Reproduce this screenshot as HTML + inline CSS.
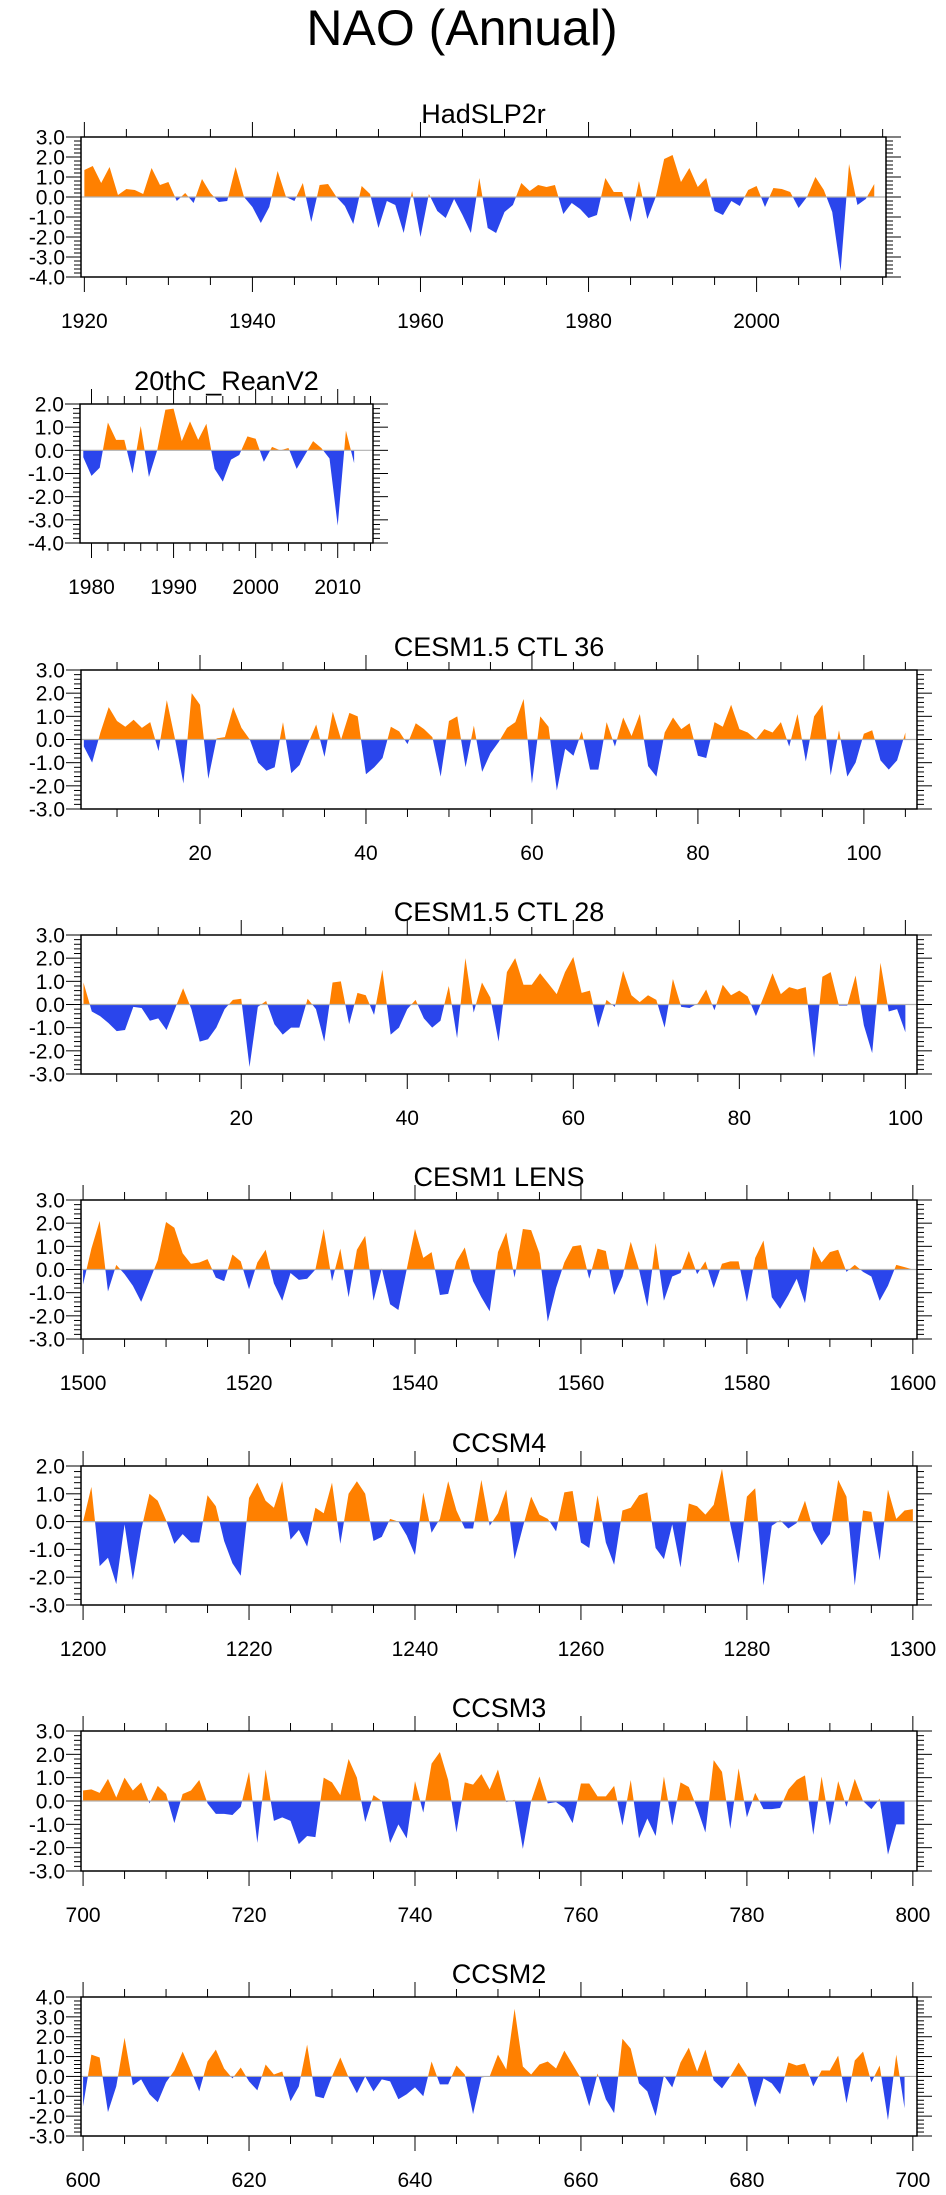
<!DOCTYPE html>
<html><head><meta charset="utf-8"><style>
html,body{margin:0;padding:0;background:#fff;}
svg{display:block;font-family:"Liberation Sans",Arial,sans-serif;}
</style></head><body>
<svg id="chart" width="946" height="2195" viewBox="0 0 946 2195" xmlns="http://www.w3.org/2000/svg">
<text x="462" y="45" font-size="50" text-anchor="middle">NAO (Annual)</text>
</svg>
<script>
// ---- data ----
const hadYears0 = 1920;
const hadValues = [1.35,1.55,0.7,1.5,0.1,0.4,0.35,0.15,1.45,0.6,0.75,-0.2,0.2,-0.3,0.9,0.2,-0.25,-0.2,1.5,0.0,
-0.5,-1.3,-0.5,1.3,0.0,-0.2,0.7,-1.25,0.6,0.65,0.0,-0.45,-1.35,0.55,0.15,-1.55,-0.2,-0.4,-1.8,0.3,
-2.0,0.15,-0.7,-1.05,-0.1,-0.9,-1.8,0.95,-1.55,-1.8,-0.75,-0.4,0.7,0.3,0.6,0.5,0.6,-0.85,-0.3,-0.6,
-1.05,-0.9,0.95,0.25,0.25,-1.25,0.8,-1.1,0.0,1.9,2.1,0.75,1.45,0.5,0.95,-0.7,-0.9,-0.2,-0.45,0.35,
0.55,-0.5,0.45,0.4,0.25,-0.55,0.0,1.0,0.35,-0.75,-3.7,1.65,-0.4,-0.1,0.65];
const reanYears0 = 1979;
const reanValues = [-0.3,-1.1,-0.75,1.2,0.45,0.45,-1.0,1.05,-1.15,0.0,1.75,1.8,0.4,1.25,0.45,1.15,-0.8,-1.35,-0.4,-0.2,
0.6,0.5,-0.5,0.15,0.0,0.1,-0.8,-0.2,0.4,0.1,-0.35,-3.25,0.85,-0.55];
const ctl36Years0 = 6;
const ctl36Values = [-0.3,-1.0,0.3,1.4,0.8,0.55,0.85,0.5,0.75,-0.5,1.7,0.0,-1.9,2.0,1.5,-1.7,0.05,0.1,1.4,0.5,
0.0,-1.0,-1.35,-1.2,0.75,-1.45,-1.1,-0.2,0.65,-0.75,1.2,0.0,1.15,1.0,-1.5,-1.2,-0.8,0.55,0.35,-0.2,
0.7,0.45,0.1,-1.6,0.8,1.0,-1.2,0.6,-1.4,-0.6,-0.1,0.5,0.75,1.75,-1.9,1.0,0.55,-2.2,-0.4,-0.7,
0.35,-1.3,-1.3,0.75,-0.3,0.95,0.15,1.1,-1.15,-1.6,0.3,0.95,0.45,0.7,-0.7,-0.8,0.75,0.55,1.5,0.45,
0.3,0.0,0.45,0.3,0.75,-0.3,1.1,-0.95,1.0,1.5,-1.55,0.4,-1.6,-1.0,0.25,0.4,-0.9,-1.3,-0.9,0.3];
const ctl28Years0 = 1;
const ctl28Values = [0.95,-0.3,-0.5,-0.8,-1.15,-1.1,-0.1,-0.15,-0.7,-0.6,-1.1,-0.2,0.7,-0.2,-1.6,-1.5,-1.0,-0.2,0.2,0.25,
-2.7,-0.1,0.15,-0.85,-1.3,-1.0,-1.0,0.25,-0.2,-1.6,0.95,1.0,-0.85,0.5,0.4,-0.45,1.5,-1.3,-1.0,-0.2,
0.2,-0.6,-1.0,-0.7,0.8,-1.45,2.0,-0.35,0.95,0.3,-1.6,1.4,2.0,0.85,0.85,1.35,0.9,0.45,1.4,2.05,
0.5,0.6,-1.0,0.2,-0.1,1.45,0.4,0.1,0.4,0.2,-1.0,1.1,-0.1,-0.15,0.05,0.65,-0.25,0.85,0.4,0.6,
0.35,-0.5,0.4,1.35,0.45,0.75,0.65,0.75,-2.3,1.2,1.4,-0.05,-0.05,1.25,-0.9,-2.1,1.8,-0.3,-0.2,-1.2];
const lensYears0 = 1500;
const lensValues = [-0.65,0.9,2.1,-0.95,0.2,-0.2,-0.7,-1.4,-0.5,0.4,2.05,1.8,0.7,0.25,0.3,0.45,-0.35,-0.5,0.65,0.35,
-0.85,0.3,0.85,-0.6,-1.35,-0.15,-0.45,-0.4,0.0,1.75,-0.5,0.9,-1.2,0.85,1.45,-1.35,0.05,-1.5,-1.75,0.0,
1.75,0.5,0.75,-1.1,-1.05,0.35,0.95,-0.5,-1.2,-1.8,0.75,1.6,-0.35,1.75,1.7,0.7,-2.25,-0.8,0.3,1.0,
1.05,-0.4,0.9,0.8,-1.1,-0.3,1.2,0.0,-1.6,1.15,-1.35,-0.3,-0.15,0.8,-0.2,0.35,-0.8,0.25,0.35,0.35,
-1.4,0.5,1.25,-1.2,-1.7,-1.1,-0.4,-1.45,1.0,0.3,0.75,0.85,-0.1,0.2,-0.1,-0.3,-1.35,-0.7,0.2,0.1,0.0];
const ccsm4Years0 = 1200;
const ccsm4Values = [0.0,1.25,-1.6,-1.3,-2.25,-0.1,-2.1,-0.3,1.0,0.75,0.05,-0.8,-0.45,-0.75,-0.75,0.95,0.55,-0.7,-1.5,-1.95,
0.85,1.4,0.75,0.5,1.45,-0.65,-0.3,-0.9,0.5,0.3,1.4,-0.8,1.0,1.45,1.0,-0.7,-0.55,0.1,0.0,-0.5,
-1.2,1.05,-0.4,0.1,1.45,0.4,-0.25,-0.25,1.5,-0.15,0.3,1.15,-1.35,-0.2,0.9,0.25,0.1,-0.35,1.05,1.1,
-0.75,-0.95,0.95,-0.75,-1.55,0.4,0.5,0.95,1.05,-0.95,-1.35,-0.1,-1.65,0.65,0.55,0.25,0.6,1.9,-0.1,-1.5,
0.9,1.2,-2.3,-0.15,0.05,-0.25,-0.05,0.75,-0.3,-0.85,-0.45,1.5,0.9,-2.3,0.4,0.35,-1.4,1.15,0.1,0.4,0.45];
const ccsm3Years0 = 700;
const ccsm3Values = [0.45,0.5,0.35,0.95,0.15,1.0,0.45,0.8,-0.1,0.65,0.3,-0.95,0.3,0.45,0.9,-0.1,-0.55,-0.55,-0.6,-0.25,
1.25,-1.8,1.35,-0.85,-0.7,-0.85,-1.85,-1.5,-1.55,1.0,0.8,0.25,1.8,1.0,-0.9,0.25,0.0,-1.8,-1.0,-1.6,
0.85,-0.5,1.6,2.1,0.9,-1.35,0.8,0.7,1.15,0.5,1.35,-0.05,0.05,-2.05,0.0,1.05,-0.1,-0.05,-0.3,-0.95,
0.75,0.75,0.2,0.2,0.65,-1.05,0.9,-1.6,-0.75,-1.5,1.05,-1.05,0.8,0.6,-0.3,-1.35,1.75,1.25,-1.2,1.4,
-0.7,0.35,-0.35,-0.35,-0.3,0.5,0.9,1.1,-1.45,1.05,-1.05,0.85,-0.25,0.95,0.0,-0.35,0.1,-2.3,-1.0,-1.0];
const ccsm2Years0 = 600;
const ccsm2Values = [-1.5,1.1,0.95,-1.8,-0.5,1.95,-0.45,-0.15,-0.9,-1.3,-0.3,0.3,1.25,0.3,-0.75,0.75,1.35,0.4,-0.1,0.45,
-0.25,-0.7,0.6,0.1,0.25,-1.25,-0.5,1.6,-1.0,-1.1,0.0,0.95,-0.05,-0.85,0.0,-0.75,-0.15,-0.25,-1.15,-0.9,
-0.55,-1.0,0.75,-0.4,-0.4,0.55,0.1,-1.9,-0.05,0.0,1.1,0.35,3.4,0.5,0.1,0.6,0.75,0.4,1.3,0.6,
-0.1,-1.5,0.15,-1.15,-1.85,1.9,1.4,-0.35,-0.75,-2.0,0.05,-0.55,0.7,1.45,0.25,1.35,-0.2,-0.6,0.0,0.7,
0.05,-1.55,-0.1,-0.35,-0.9,0.7,0.55,0.65,-0.5,0.3,0.3,1.05,-1.35,0.8,1.25,-0.3,0.55,-2.2,1.1,-1.6];
const hadXTicks = [1920,1940,1960,1980,2000];
const reanXTicks = [1980,1990,2000,2010];
const ctlXTicks = [20,40,60,80,100];
const lensXTicks = [1500,1520,1540,1560,1580,1600];
const ccsm4XTicks = [1200,1220,1240,1260,1280,1300];
const ccsm3XTicks = [700,720,740,760,780,800];
const ccsm2XTicks = [600,620,640,660,680,700];

// ---- layout ----
const NS='http://www.w3.org/2000/svg';
const svg=document.getElementById('chart');
function mk(tag,attrs,parent){const e=document.createElementNS(NS,tag);for(const k in attrs)e.setAttribute(k,attrs[k]);(parent||svg).appendChild(e);return e;}

const panels=[
 {name:'hadslp2r',title:'HadSLP2r',x0:hadYears0,vals:hadValues,xt:hadXTicks,minorStep:5,L:81,R:886,T:137,B:277,xmin:1919.6,xmax:2015.4,ymin:-4,ymax:3},
 {name:'20thc-reanv2',title:'20thC_ReanV2',x0:reanYears0,vals:reanValues,xt:reanXTicks,minorStep:2,L:80,R:373,T:404,B:543,xmin:1978.6,xmax:2014.3,ymin:-4,ymax:2},
 {name:'cesm15-ctl36',title:'CESM1.5 CTL 36',x0:ctl36Years0,vals:ctl36Values,xt:ctlXTicks,minorStep:5,L:81,R:917,T:670,B:809,xmin:5.66,xmax:106.4,ymin:-3,ymax:3},
 {name:'cesm15-ctl28',title:'CESM1.5 CTL 28',x0:ctl28Years0,vals:ctl28Values,xt:ctlXTicks,minorStep:5,L:81,R:917,T:935,B:1074,xmin:0.7,xmax:101.4,ymin:-3,ymax:3},
 {name:'cesm1-lens',title:'CESM1 LENS',x0:lensYears0,vals:lensValues,xt:lensXTicks,minorStep:5,L:81,R:917,T:1200,B:1339,xmin:1499.75,xmax:1600.5,ymin:-3,ymax:3},
 {name:'ccsm4',title:'CCSM4',x0:ccsm4Years0,vals:ccsm4Values,xt:ccsm4XTicks,minorStep:5,L:81,R:917,T:1466,B:1605,xmin:1199.75,xmax:1300.5,ymin:-3,ymax:2},
 {name:'ccsm3',title:'CCSM3',x0:ccsm3Years0,vals:ccsm3Values,xt:ccsm3XTicks,minorStep:5,L:81,R:917,T:1731,B:1871,xmin:699.75,xmax:800.5,ymin:-3,ymax:3},
 {name:'ccsm2',title:'CCSM2',x0:ccsm2Years0,vals:ccsm2Values,xt:ccsm2XTicks,minorStep:5,L:81,R:917,T:1997,B:2136,xmin:599.75,xmax:700.5,ymin:-3,ymax:4}
];

panels.forEach((p,pi)=>{
 const g=mk('g',{});
 
 
 const sx=v=>p.L+(v-p.xmin)/(p.xmax-p.xmin)*(p.R-p.L);
 const sy=v=>p.B-(v-p.ymin)/(p.ymax-p.ymin)*(p.B-p.T);
 const t=mk('text',{x:(p.L+p.R)/2,y:p.T-14,'font-size':27,'text-anchor':'middle'},g);
 t.textContent=p.title;
 
 
 const defs=mk('defs',{},g);
 const y0=sy(0);
 const cu=mk('clipPath',{id:'cu'+pi},defs); mk('rect',{x:p.L,y:p.T,width:p.R-p.L,height:y0-p.T},cu);
 const cd=mk('clipPath',{id:'cd'+pi},defs); mk('rect',{x:p.L,y:y0,width:p.R-p.L,height:p.B-y0},cd);
 let pts=[];
 p.vals.forEach((v,i)=>pts.push(sx(p.x0+i).toFixed(2)+','+sy(v).toFixed(2)));
 const xa=sx(p.x0), xb=sx(p.x0+p.vals.length-1);
 const poly=xa.toFixed(2)+','+y0+' '+pts.join(' ')+' '+xb.toFixed(2)+','+y0;
 const pos=mk('polygon',{points:poly,fill:'#ff8000','clip-path':'url(#cu'+pi+')'},g);
 
 
 const neg=mk('polygon',{points:poly,fill:'#2a45ec','clip-path':'url(#cd'+pi+')'},g);
 
 
 const zl=mk('line',{x1:p.L,x2:p.R,y1:y0,y2:y0,stroke:'#b0b0b0','stroke-width':1.2},g);
 
 
 const fr=mk('rect',{x:p.L,y:p.T,width:p.R-p.L,height:p.B-p.T,fill:'none',stroke:'#000','stroke-width':1.5},g);
 
 
 const xs=Math.ceil(p.xmin/p.minorStep)*p.minorStep;
 for(let v=xs;v<=p.xmax;v+=p.minorStep){
  const major=p.xt.indexOf(v)>=0;const len=major?15:8;const x=sx(v);
  mk('line',{x1:x,x2:x,y1:p.T,y2:p.T-len,stroke:'#000','stroke-width':1},g);
  mk('line',{x1:x,x2:x,y1:p.B,y2:p.B+len,stroke:'#000','stroke-width':1},g);
 }
 p.xt.forEach(v=>{
  const l=mk('text',{x:sx(v),y:p.B+51,'font-size':21,'text-anchor':'middle'},g);
  l.textContent=String(v);
  
  
 });
 for(let k=Math.round(p.ymin*5);k<=Math.round(p.ymax*5);k++){
  const v=k/5;const major=(k%5===0);const len=major?15:7;const y=sy(v);
  mk('line',{x1:p.L,x2:p.L-len,y1:y,y2:y,stroke:'#000','stroke-width':1},g);
  mk('line',{x1:p.R,x2:p.R+len,y1:y,y2:y,stroke:'#000','stroke-width':1},g);
  if(major){
   const l=mk('text',{x:p.L-16,y:y+7.5,'font-size':21,'text-anchor':'end'},g);
   l.textContent=v.toFixed(1);
   
   
  }
 }
});
</script>
</body></html>
